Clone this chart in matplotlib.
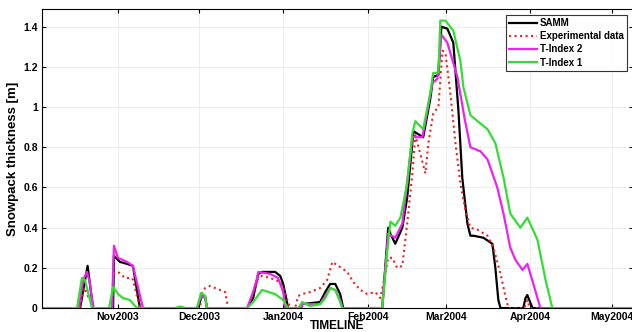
import matplotlib
matplotlib.use('Agg')
import matplotlib.pyplot as plt

plt.rcParams['font.family'] = ['Liberation Sans', 'DejaVu Sans']
plt.rcParams['font.weight'] = 'bold'

# x = days since 1 Oct 2003, y = snowpack thickness [m]
samm_days = [3, 17.0, 19.8, 21.8, 29.2, 29.5, 31.7, 34.3, 36.5, 39.1,
             60.5, 62.0, 63.1, 63.8,
             78.6, 80.8, 82.7, 84.1, 88.9, 90.8, 91.9, 93.7,
             98.5, 98.9, 105.5, 107.4, 109.2, 111.1, 112.9, 114.0,
             128.4, 130.6, 131.4, 133.2, 135.8, 137.6, 139.9, 143.5, 146.1, 147.2,
             149.1, 150.2, 152.4, 154.6, 156.5, 157.9, 159.8, 160.9, 162.0, 165.7,
             169.0, 170.1, 171.2, 172.0, 180.4, 181.2, 181.9, 182.3, 183.8, 221]
samm_vals = [0, 0, 0.21, 0, 0, 0.26, 0.23, 0.22, 0.21, 0,
             0, 0.065, 0.06, 0,
             0, 0.05, 0.17, 0.18, 0.18, 0.16, 0.12, 0,
             0, 0.02, 0.03, 0.08, 0.12, 0.12, 0.07, 0,
             0, 0.40, 0.37, 0.32, 0.40, 0.55, 0.88, 0.85, 1.04, 1.15,
             1.16, 1.40, 1.39, 1.32, 0.98, 0.65, 0.42, 0.36, 0.36, 0.35,
             0.32, 0.20, 0.04, 0, 0, 0.05, 0.065, 0.05, 0, 0]

exp_days = [3, 17.0, 18.1, 18.8, 19.9, 22.5, 28.8, 29.2, 31.0, 33.6, 36.2, 36.5, 39.1,
            61.3, 61.6, 63.1, 64.9, 68.6, 70.5, 71.6,
            78.8, 80.8, 82.7, 84.1, 87.1, 90.8, 91.9, 94.5,
            96.3, 97.4, 98.9, 101.8, 105.5, 108.1, 110.0, 112.2, 115.5, 117.7,
            120.3, 122.9, 125.8, 127.7, 128.8, 130.6, 132.1, 133.9, 135.8, 137.6,
            139.5, 140.6, 142.4, 144.3, 145.4, 147.2, 149.1, 150.6, 151.7, 153.5,
            155.4, 157.2, 159.0, 160.9, 163.5, 167.2, 169.4, 172.0, 173.8, 174.9,
            180.8, 181.9, 182.8, 221]
exp_vals = [0, 0, 0.07, 0.10, 0.06, 0, 0, 0.17, 0.18, 0.15, 0.15, 0.14, 0,
            0, 0.06, 0.10, 0.11, 0.09, 0.08, 0,
            0, 0.08, 0.15, 0.16, 0.15, 0.13, 0.10, 0,
            0, 0.06, 0.07, 0.08, 0.10, 0.14, 0.23, 0.21, 0.18, 0.13,
            0.09, 0.07, 0.08, 0.05, 0.12, 0.25, 0.25, 0.20, 0.21, 0.42,
            0.67, 0.86, 0.77, 0.67, 0.82, 0.97, 1.00, 1.28, 1.27, 1.07,
            0.82, 0.62, 0.49, 0.40, 0.39, 0.36, 0.30, 0.17, 0.06, 0,
            0, 0.04, 0, 0]

ti2_days = [3, 16.6, 18.1, 19.6, 20.7, 21.8, 28.8, 29.5, 31.0, 34.3, 36.5, 40.2,
            60.1, 61.6, 63.1, 63.8,
            78.6, 80.8, 82.3, 82.7, 87.1, 90.0, 91.9, 92.6,
            98.5, 99.0, 105.5, 107.4, 109.2, 111.1, 112.9, 113.7,
            128.4, 130.6, 133.2, 135.8, 139.5, 143.2, 146.9, 148.7, 150.2, 152.4,
            156.1, 158.8, 160.9, 164.6, 167.2, 170.8, 173.1, 175.6, 177.5, 180.1,
            181.9, 184.1, 186.7, 221]
ti2_vals = [0, 0, 0.14, 0.18, 0.12, 0, 0, 0.31, 0.25, 0.23, 0.21, 0,
            0, 0.06, 0.05, 0,
            0, 0.08, 0.15, 0.18, 0.17, 0.15, 0.08, 0,
            0, 0.02, 0.02, 0.06, 0.10, 0.09, 0.04, 0,
            0, 0.37, 0.35, 0.42, 0.85, 0.85, 1.12, 1.14, 1.36, 1.32,
            1.15, 0.94, 0.80, 0.78, 0.74, 0.60, 0.47, 0.30, 0.24, 0.19,
            0.22, 0.12, 0, 0]

ti1_days = [3, 15.9, 17.7, 18.8, 20.3, 21.4, 27.7, 29.2, 31.0, 32.8, 35.4, 38.0,
            52.0, 54.0, 56.0, 60.1, 61.6, 63.1, 63.8,
            78.6, 79.7, 80.8, 84.1, 88.9, 91.9, 93.7,
            97.5, 98.9, 101.8, 105.5, 107.4, 109.2, 111.1, 112.9, 113.7,
            128.4, 130.3, 131.4, 133.2, 135.1, 137.6, 139.5, 140.6, 143.5, 146.1,
            147.2, 149.1, 149.8, 151.7, 154.6, 157.2, 158.3, 160.9, 163.5, 167.2,
            170.1, 173.1, 175.6, 179.3, 181.9, 185.6, 188.6, 191.1, 221]
ti1_vals = [0, 0, 0.15, 0.14, 0.06, 0, 0, 0.105, 0.07, 0.05, 0.04, 0,
            0, 0.008, 0, 0, 0.075, 0.06, 0,
            0, 0.015, 0.03, 0.09, 0.07, 0.04, 0,
            0, 0.03, 0.01, 0.02, 0.05, 0.10, 0.09, 0.03, 0,
            0, 0.29, 0.43, 0.41, 0.45, 0.62, 0.87, 0.93, 0.89, 1.07,
            1.17, 1.17, 1.43, 1.43, 1.38, 1.23, 1.10, 0.96, 0.93, 0.89,
            0.82, 0.65, 0.47, 0.40, 0.45, 0.34, 0.14, 0, 0]

month_days = [31, 61, 92, 123, 152, 183, 213]
month_labels = ['Nov2003', 'Dec2003', 'Jan2004', 'Feb2004', 'Mar2004', 'Apr2004', 'May2004']
y_ticks = [0, 0.2, 0.4, 0.6, 0.8, 1, 1.2, 1.4]
y_labels = ['0', '0.2', '0.4', '0.6', '0.8', '1', '1.2', '1.4']

fig = plt.figure(figsize=(6.32, 3.32), dpi=100)
ax = fig.add_axes([0.0665, 0.072, 0.9345, 0.901])

ax.plot(samm_days, samm_vals, color='black', lw=1.6, label='SAMM')
ax.plot(exp_days, exp_vals, color='#ee2222', lw=1.5, ls=':', label='Experimental data')
ax.plot(ti2_days, ti2_vals, color='#ee22ee', lw=1.6, label='T-Index 2')
ax.plot(ti1_days, ti1_vals, color='#33dd33', lw=1.6, label='T-Index 1')

ax.set_xlim(3, 220.7)
ax.set_ylim(0, 1.488)
ax.set_xticks(month_days)
ax.set_xticklabels(month_labels)
ax.set_yticks(y_ticks)
ax.set_yticklabels(y_labels)
ax.tick_params(direction='in', top=True, right=True, labelsize=7.5, length=3, pad=3)
ax.grid(True, color='#ececec', lw=0.7)
for s in ax.spines.values():
    s.set_linewidth(0.8)

ax.set_ylabel('Snowpack thickness [m]', fontsize=9.5, fontweight='bold', labelpad=3)
ax.set_xlabel('TIMELINE', fontsize=8.5, fontweight='bold', labelpad=-1.5)

leg = ax.legend(loc='upper right', fontsize=7, frameon=True, fancybox=False,
                edgecolor='black', borderaxespad=0.6, handlelength=2.8,
                labelspacing=0.32, borderpad=0.35, handletextpad=0.3)
leg.get_frame().set_linewidth(0.8)

fig.savefig('out.png', dpi=100)
